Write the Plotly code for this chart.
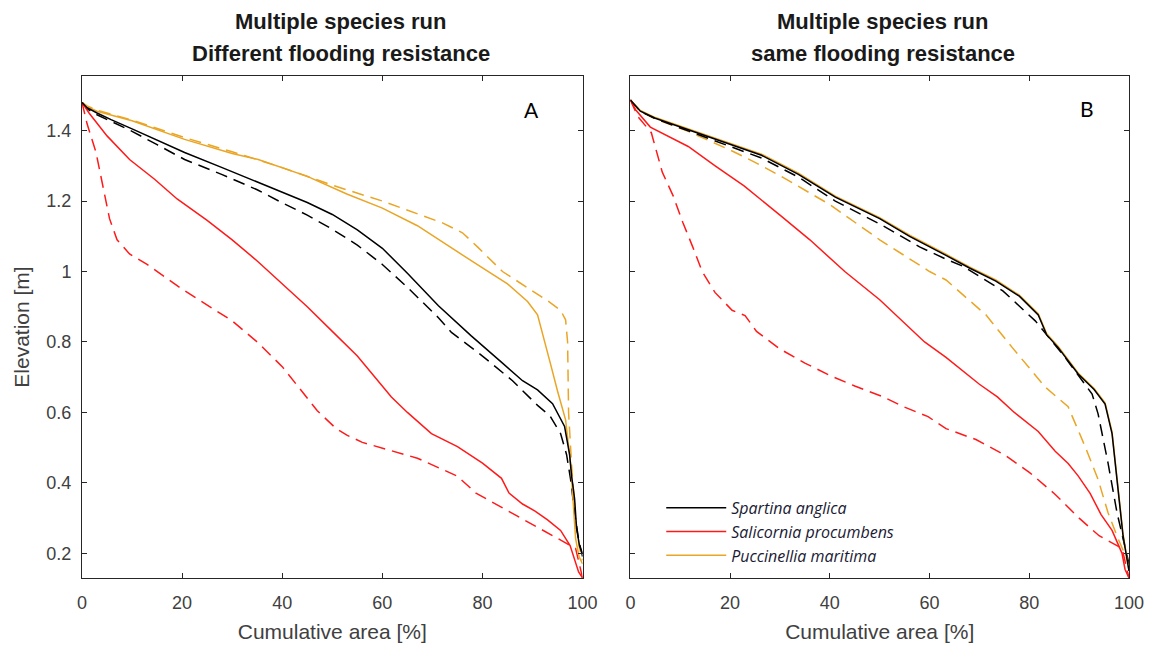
import plotly.graph_objects as go

# ---------------- data ----------------
# Panel A: different flooding resistance
a_spartina_x = [0, 1, 3, 5.8, 10, 15, 20.5, 28, 35.2, 39.6, 45, 50, 55, 60, 65, 71.2, 77.7, 84, 88, 91, 94, 96.4, 97.4, 97.8, 98.4, 98.8, 99.4, 100]
a_spartina_y = [1.48, 1.465, 1.45, 1.431, 1.405, 1.372, 1.338, 1.295, 1.254, 1.228, 1.196, 1.162, 1.118, 1.066, 0.995, 0.903, 0.818, 0.74, 0.69, 0.664, 0.625, 0.56, 0.48, 0.42, 0.355, 0.27, 0.22, 0.2]
a_spartina_dash_x = [0, 1, 3, 5.8, 10, 15, 20.5, 28, 35, 40, 45, 50, 55, 60, 65, 71.2, 73.8, 80, 86, 91, 93.5, 95.6, 96.8, 97.6, 98.4, 99.2, 100]
a_spartina_dash_y = [1.48, 1.462, 1.445, 1.426, 1.398, 1.36, 1.318, 1.275, 1.232, 1.195, 1.16, 1.12, 1.075, 1.02, 0.955, 0.869, 0.827, 0.76, 0.69, 0.62, 0.59, 0.54, 0.48, 0.41, 0.315, 0.24, 0.19]
a_puccinellia_x = [0, 1, 3, 5.8, 10, 20.5, 30, 35.2, 45, 52.9, 60, 67, 73.8, 80, 85, 89, 91, 92.5, 93.6, 95, 96.6, 97.6, 98.6, 99.3, 100]
a_puccinellia_y = [1.48, 1.468, 1.455, 1.445, 1.428, 1.375, 1.335, 1.318, 1.27, 1.22, 1.18, 1.13, 1.066, 1.01, 0.965, 0.915, 0.877, 0.80, 0.737, 0.66, 0.579, 0.456, 0.242, 0.19, 0.17]
a_puccinellia_dash_x = [0, 1, 3, 5.8, 10, 20.5, 30, 40, 50, 60, 66, 72, 76, 79, 84, 89, 93, 95.6, 96.6, 97, 97.2, 97.8, 98.6, 99.3, 100]
a_puccinellia_dash_y = [1.48, 1.47, 1.458, 1.447, 1.43, 1.38, 1.34, 1.295, 1.245, 1.2, 1.17, 1.138, 1.11, 1.07, 1.0, 0.955, 0.917, 0.89, 0.863, 0.8, 0.6, 0.45, 0.3, 0.22, 0.18]
a_salicornia_x = [0, 1.4, 5, 9.5, 14.5, 19, 25, 30, 35, 40, 45, 50, 55, 61.8, 65, 69.8, 75, 80, 83.8, 85.3, 88, 90.5, 93, 95.6, 97.5, 99.2, 100]
a_salicornia_y = [1.48, 1.45, 1.385, 1.318, 1.262, 1.206, 1.145, 1.09, 1.03, 0.965, 0.9, 0.83, 0.76, 0.644, 0.6, 0.54, 0.503, 0.456, 0.413, 0.371, 0.34, 0.32, 0.295, 0.265, 0.222, 0.147, 0.13]
a_salicornia_dash_x = [0, 1, 2.8, 4.4, 5.5, 7, 9.5, 13, 20, 30, 35, 40, 43.3, 47, 50.7, 53, 56, 60.3, 67, 75, 78.7, 86.8, 94.2, 98.6, 100]
a_salicornia_dash_y = [1.48, 1.42, 1.338, 1.226, 1.15, 1.09, 1.05, 1.02, 0.95, 0.86, 0.8, 0.73, 0.67, 0.605, 0.555, 0.535, 0.515, 0.497, 0.47, 0.419, 0.371, 0.307, 0.25, 0.214, 0.13]

# Panel B: same flooding resistance
b_spartina_x = [0, 2, 5, 11.6, 20, 26.3, 33.7, 41.1, 50, 56, 63.3, 68, 73.3, 78, 81.8, 83.5, 85.8, 89.8, 93, 95.2, 96.6, 97.6, 98.8, 100]
b_spartina_y = [1.487, 1.455, 1.435, 1.403, 1.36, 1.33, 1.276, 1.211, 1.15, 1.1, 1.046, 1.01, 0.973, 0.93, 0.877, 0.82, 0.784, 0.709, 0.665, 0.624, 0.54, 0.41, 0.25, 0.15]
b_spartina_dash_x = [0, 2, 5, 11.6, 20, 26.3, 33.7, 41.1, 50, 58, 63.3, 66.7, 74.7, 81.2, 87.2, 92.6, 93.8, 95.8, 97.6, 98.8, 100]
b_spartina_dash_y = [1.487, 1.455, 1.434, 1.4, 1.355, 1.322, 1.268, 1.2, 1.135, 1.07, 1.035, 1.015, 0.945, 0.86, 0.756, 0.652, 0.596, 0.456, 0.315, 0.242, 0.17]
b_puccinellia_x = [0, 2, 5, 11.6, 20, 26.3, 33.7, 41.1, 50, 56, 63.3, 68, 73.3, 78, 81.8, 83.5, 85.8, 89.8, 93, 95.2, 96.6, 97.6, 98.8, 100]
b_puccinellia_y = [1.487, 1.457, 1.437, 1.405, 1.363, 1.333, 1.279, 1.214, 1.153, 1.103, 1.049, 1.013, 0.976, 0.933, 0.88, 0.823, 0.787, 0.712, 0.668, 0.627, 0.545, 0.415, 0.255, 0.15]
b_puccinellia_dash_x = [0, 2, 5, 11.6, 20, 25, 30, 35, 40, 50, 60, 63.3, 71.3, 76.6, 83.2, 87.8, 91.2, 93.8, 95.8, 97.8, 100]
b_puccinellia_dash_y = [1.487, 1.455, 1.433, 1.398, 1.345, 1.31, 1.272, 1.232, 1.19, 1.09, 1.0, 0.976, 0.877, 0.784, 0.672, 0.616, 0.503, 0.41, 0.315, 0.242, 0.17]
b_salicornia_x = [0, 1, 4, 11.6, 17, 22.8, 30, 36, 43, 50, 59, 63.3, 70, 73.6, 77, 81.8, 85.2, 87.8, 89.8, 92.2, 94.4, 96.6, 98.6, 99.2, 100]
b_salicornia_y = [1.487, 1.46, 1.41, 1.355, 1.3, 1.243, 1.16, 1.09, 1.0, 0.92, 0.8, 0.756, 0.68, 0.644, 0.6, 0.546, 0.49, 0.455, 0.42, 0.37, 0.31, 0.265, 0.2, 0.155, 0.13]
b_salicornia_dash_x = [0, 1.5, 4.2, 6.4, 8.6, 10.5, 12.5, 14.4, 17, 20.4, 23, 25.3, 30, 35, 40, 45, 50.7, 55, 59.7, 63.3, 69.3, 75, 80, 85, 90, 94, 98.6, 100]
b_salicornia_dash_y = [1.487, 1.44, 1.394, 1.282, 1.214, 1.14, 1.07, 1.0, 0.94, 0.89, 0.875, 0.83, 0.78, 0.74, 0.705, 0.675, 0.644, 0.615, 0.588, 0.554, 0.523, 0.48, 0.43, 0.37, 0.3, 0.25, 0.214, 0.13]

species = ["Spartina anglica", "Salicornia procumbens", "Puccinellia maritima"]
colors = {"Spartina anglica": "#000000", "Salicornia procumbens": "#FF1A1A", "Puccinellia maritima": "#EAA525"}

x_ticks = [0, 20, 40, 60, 80, 100]
y_ticks = [0.2, 0.4, 0.6, 0.8, 1.0, 1.2, 1.4]
y_tick_text = ["0.2", "0.4", "0.6", "0.8", "1", "1.2", "1.4"]

panel_titles = {"A": ["Multiple species run", "Different flooding resistance"],
                "B": ["Multiple species run", "same flooding resistance"]}

panels = {
    "A": {
        "Spartina anglica": (a_spartina_x, a_spartina_y, a_spartina_dash_x, a_spartina_dash_y),
        "Salicornia procumbens": (a_salicornia_x, a_salicornia_y, a_salicornia_dash_x, a_salicornia_dash_y),
        "Puccinellia maritima": (a_puccinellia_x, a_puccinellia_y, a_puccinellia_dash_x, a_puccinellia_dash_y),
    },
    "B": {
        "Spartina anglica": (b_spartina_x, b_spartina_y, b_spartina_dash_x, b_spartina_dash_y),
        "Salicornia procumbens": (b_salicornia_x, b_salicornia_y, b_salicornia_dash_x, b_salicornia_dash_y),
        "Puccinellia maritima": (b_puccinellia_x, b_puccinellia_y, b_puccinellia_dash_x, b_puccinellia_dash_y),
    },
}

# ---------------- figure ----------------
fig = go.Figure()
axes = {"A": ("x", "y"), "B": ("x2", "y2")}
draw_order = ["Puccinellia maritima", "Salicornia procumbens", "Spartina anglica"]
for p, data in panels.items():
    xa, ya = axes[p]
    for sp in draw_order:
        sx, sy, dx, dy = data[sp]
        fig.add_trace(go.Scatter(x=dx, y=dy, mode="lines", name=sp + " (dashed)",
                                 xaxis=xa, yaxis=ya, showlegend=False,
                                 line=dict(color=colors[sp], width=1.5, dash="12px,7px")))
    for sp in draw_order:
        sx, sy, dx, dy = data[sp]
        fig.add_trace(go.Scatter(x=sx, y=sy, mode="lines", name=sp,
                                 xaxis=xa, yaxis=ya, legendgroup=sp, showlegend=False,
                                 line=dict(color=colors[sp], width=1.5)))

# legend entries (panel B), in reference order
for sp in species:
    fig.add_trace(go.Scatter(x=[None], y=[None], mode="lines", name=sp, xaxis="x2", yaxis="y2",
                             legendgroup=sp, showlegend=True,
                             line=dict(color=colors[sp], width=1.5)))

W, H = 1156, 651
L, R, T, B = 82, 22, 76, 68
pw = W - L - R
ph = H - T - B

FONT = "Liberation Sans, Arial"
axis_common = dict(showline=True, linecolor="#262626", linewidth=1, mirror="ticks",
                   ticks="inside", ticklen=5, tickcolor="#262626", showgrid=False,
                   zeroline=False, tickfont=dict(family=FONT, size=18, color="#404040"))
xtitle_font = dict(family=FONT, size=21, color="#404040")

annotations = []
centers = {"A": 342, "B": 887}
for p, lines in panel_titles.items():
    for line_text, ypix in zip(lines, [21, 53]):
        annotations.append(dict(text="<b>" + line_text + "</b>", xref="paper", yref="paper",
                                x=(centers[p] - L) / pw, y=(H - B - ypix) / ph,
                                xanchor="center", yanchor="middle", showarrow=False,
                                font=dict(family=FONT, size=22, color="#1a1a1a")))
annotations.append(dict(text="A", xref="x", yref="y", x=89.7, y=1.459, showarrow=False,
                        font=dict(family="Lato, Open Sans", size=21, color="#000000")))
annotations.append(dict(text="B", xref="x2", yref="y2", x=91.6, y=1.462, showarrow=False,
                        font=dict(family="Lato, Open Sans", size=21, color="#000000")))

fig.update_layout(
    width=W, height=H,
    margin=dict(l=L, r=R, t=T, b=B),
    paper_bgcolor="white", plot_bgcolor="white",
    xaxis=dict(domain=[0, 503 / pw], range=[0, 100], tickvals=x_ticks, ticklabelstandoff=8,
               title=dict(text="Cumulative area [%]", font=xtitle_font, standoff=12),
               anchor="y", **axis_common),
    yaxis=dict(domain=[0, 1], range=[0.13, 1.555], tickvals=y_ticks, ticktext=y_tick_text,
               ticklabelstandoff=6,
               title=dict(text="Elevation [m]", font=xtitle_font, standoff=11),
               anchor="x", **axis_common),
    xaxis2=dict(domain=[(633 - L) / pw, 1], range=[0, 100], tickvals=x_ticks, ticklabelstandoff=8,
                title=dict(text="Cumulative area [%]", font=xtitle_font, standoff=12),
                anchor="y2", **axis_common),
    yaxis2=dict(domain=[0, 1], range=[0.13, 1.555], tickvals=y_ticks, showticklabels=False,
                anchor="x2", **axis_common),
    showlegend=True,
    legend=dict(x=(664 - L) / pw, y=(583 - 495) / ph, xanchor="left", yanchor="top",
                bgcolor="rgba(0,0,0,0)", itemwidth=60, tracegroupgap=0,
                font=dict(family="Open Sans", size=16, color="#1a1a33", style="italic")),
    annotations=annotations,
)

fig.write_html("out.html")
